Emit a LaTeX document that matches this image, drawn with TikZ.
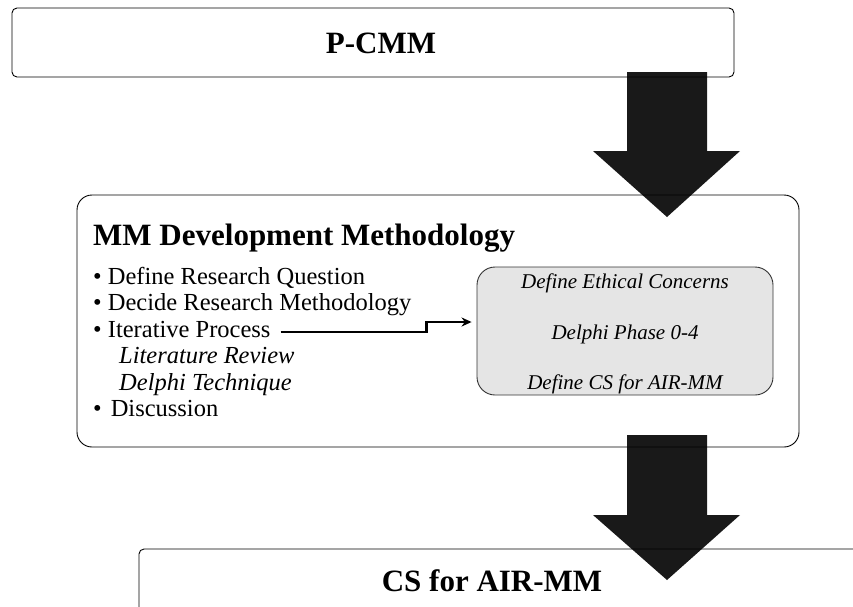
\documentclass[tikz,border=0pt]{standalone}
\usepackage{fontspec}
\setmainfont{Liberation Serif}
\usetikzlibrary{arrows.meta,positioning}

\tikzset{
  box/.style={draw,line width=0.9pt,rounded corners=5pt},
  bigbox/.style={draw,line width=0.9pt,rounded corners=15pt},
  graybox/.style={draw=black!80,line width=0.9pt,fill=black!10,rounded corners=18pt},
  bigarrow/.style={fill=black,fill opacity=0.9},
  heading/.style={inner sep=0pt,font=\fontsize{31}{31}\selectfont\bfseries},
  item/.style={anchor=base west,inner sep=0pt,font=\fontsize{24.5}{24.5}\selectfont},
  phase/.style={anchor=base,inner sep=0pt,font=\fontsize{21}{21}\selectfont\itshape},
  flow/.style={line width=2.4pt,-{Stealth[length=10pt,width=9pt]}}
}

\begin{document}
\begin{tikzpicture}[x=1pt,y=-1pt]
\useasboundingbox (0,0) rectangle (853,606);
\clip (0,0) rectangle (853,606);

% Draw the three outer boxes
\draw[box] (12,8) rectangle (734,77);
\draw[bigbox] (77,195) rectangle (799,447);
\draw[box] (139,549) rectangle (880,650);

% Box titles
\node[heading] (pcmm) at (381,43) {P-CMM};
\node[heading,anchor=base west] (method) at (93,245) {MM Development Methodology};
\node[heading,anchor=base] (csair) at (492,591) {CS for AIR-MM};

% The steps of the methodology
\node[item] (define) at (93,284) {\textbullet\ Define Research Question};
\node[item] (decide) at (93,310.5) {\textbullet\ Decide Research Methodology};
\node[item] (iter) at (93,337) {\textbullet\ Iterative Process};
\node[item,font=\fontsize{24.5}{24.5}\selectfont\itshape] (litrev) at (119,363.5) {Literature Review};
\node[item,font=\fontsize{24.5}{24.5}\selectfont\itshape] (delphi) at (119,390) {Delphi Technique};
\node[item] (discuss) at (93,416) {\textbullet\hspace{9pt}Discussion};

% Gray box with the Delphi phases
\node[graybox,minimum width=296pt,minimum height=128pt] (phases) at (625,331) {};
\node[phase] (ethics) at (625,288) {Define Ethical Concerns};
\node[phase] (rounds) at (625,339) {Delphi Phase 0-4};
\node[phase] (defcs) at (625,389) {Define CS for AIR-MM};

% Small arrow into the gray box
\draw[flow,shorten >=5pt] ([shift={(10pt,5pt)}]iter.base east) -- ++(146pt,0pt) -- ++(0pt,10pt) -- ([yshift=9pt]phases.west);

% Draw the big arrows
\fill[bigarrow] (627,72) -- (707,72) -- (707,151) -- (740,151) -- (667,217) -- (593,151) -- (627,151) -- cycle;
\fill[bigarrow] (627,435) -- (707,435) -- (707,515) -- (740,515) -- (667,580) -- (593,515) -- (627,515) -- cycle;

\end{tikzpicture}
\end{document}
